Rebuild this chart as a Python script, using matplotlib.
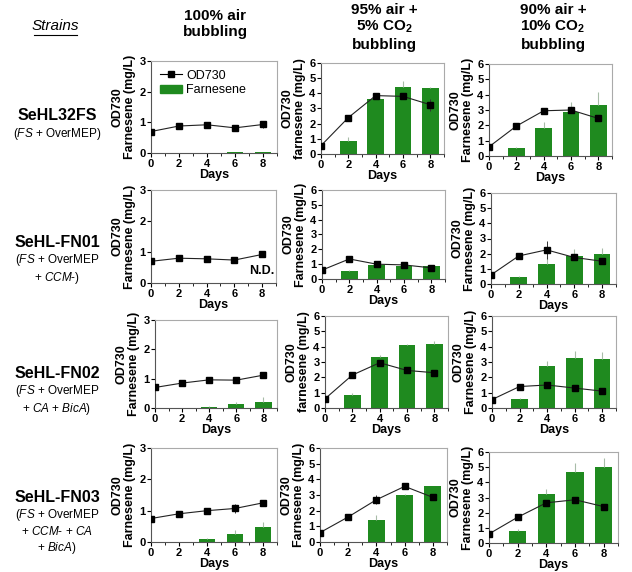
import numpy as np
import matplotlib
matplotlib.use("Agg")
import matplotlib.pyplot as plt
from matplotlib.patches import Patch
from matplotlib.lines import Line2D
from matplotlib.ticker import MultipleLocator

plt.rcParams['font.family'] = ['Liberation Sans', 'DejaVu Sans']
plt.rcParams['mathtext.fontset'] = 'custom'
plt.rcParams['mathtext.rm'] = 'Liberation Sans'
plt.rcParams['mathtext.it'] = 'Liberation Sans:italic'
plt.rcParams['mathtext.bf'] = 'Liberation Sans:bold'

days = [0, 2, 4, 6, 8]
conditions = ["100% air\nbubbling",
              "95% air +\n5% CO$_\\mathbf{2}$\nbubbling",
              "90% air +\n10% CO$_\\mathbf{2}$\nbubbling"]
strains = ["SeHL32FS", "SeHL-FN01", "SeHL-FN02", "SeHL-FN03"]
genotypes = ["($\\it{FS}$ + OverMEP)",
             "($\\it{FS}$ + OverMEP\n+ $\\it{CCM}$-)",
             "($\\it{FS}$ + OverMEP\n+ $\\it{CA}$ + $\\it{BicA}$)",
             "($\\it{FS}$ + OverMEP\n+ $\\it{CCM}$- + $\\it{CA}$\n+ $\\it{BicA}$)"]

# OD730 per strain (rows) and condition (columns)
od730 = [
    [[0.70, 0.88, 0.92, 0.82, 0.93], [0.55, 2.40, 3.85, 3.80, 3.25], [0.60, 1.95, 2.95, 3.00, 2.45]],
    [[0.70, 0.80, 0.78, 0.74, 0.92], [0.60, 1.35, 1.00, 0.95, 0.75], [0.60, 1.85, 2.25, 1.75, 1.50]],
    [[0.70, 0.85, 0.96, 0.95, 1.12], [0.60, 2.15, 2.95, 2.45, 2.30], [0.55, 1.40, 1.50, 1.30, 1.10]],
    [[0.75, 0.90, 1.00, 1.07, 1.25], [0.60, 1.60, 2.70, 3.55, 2.85], [0.60, 1.70, 2.65, 2.85, 2.40]],
]
od730_err = [
    [[0, 0.03, 0.03, 0.03, 0.10], [0, 0.05, 0.08, 0.10, 0.40], [0, 0.03, 0.05, 0.05, 0.05]],
    [[0, 0.03, 0.03, 0.03, 0.03], [0, 0.05, 0.05, 0.10, 0.10], [0, 0.05, 0.60, 0.20, 0.10]],
    [[0, 0.03, 0.03, 0.03, 0.03], [0, 0.05, 0.10, 0.10, 0.05], [0, 0.10, 0.10, 0.10, 0.10]],
    [[0, 0.03, 0.03, 0.15, 0.05], [0, 0.05, 0.30, 0.05, 0.10], [0, 0.05, 0.10, 0.10, 0.10]],
]
farnesene = [
    [[0, 0, 0, 0.03, 0.03], [0, 0.85, 3.65, 4.45, 4.35], [0, 0.55, 1.85, 2.90, 3.30]],
    [[0, 0, 0, 0, 0], [0, 0.55, 0.95, 0.90, 0.85], [0, 0.45, 1.35, 1.85, 1.95]],
    [[0, 0, 0.04, 0.15, 0.22], [0, 0.85, 3.35, 4.10, 4.20], [0, 0.60, 2.75, 3.25, 3.20]],
    [[0, 0, 0.08, 0.27, 0.48], [0, 0, 1.40, 3.00, 3.55], [0, 0.80, 3.20, 4.70, 5.00]],
]
farnesene_err = [
    [[0, 0, 0, 0.01, 0.01], [0, 0.25, 0.05, 0.35, 0.10], [0, 0.05, 0.35, 0.60, 0.85]],
    [[0, 0, 0, 0, 0], [0, 0.05, 0.05, 0.05, 0.05], [0, 0.10, 0.50, 0.45, 0.40]],
    [[0, 0, 0.02, 0.05, 0.15], [0, 0.10, 0.10, 0.10, 0.15], [0, 0.05, 0.30, 0.50, 0.45]],
    [[0, 0, 0.05, 0.10, 0.15], [0, 0, 0.35, 0.05, 0.05], [0, 0.15, 0.35, 0.60, 0.60]],
]
ymax = [3, 6, 6]

W, H = 632, 572
fig = plt.figure(figsize=(W / 100, H / 100), dpi=100)

# axes boxes in pixels: left, top, right, bottom
boxes = [
    [(151, 61, 277, 153), (321, 63, 444, 154), (489, 64, 612, 156)],
    [(151, 190, 276, 283), (322, 190, 445, 279), (491, 193, 616, 284)],
    [(155, 320, 277, 408), (325, 316, 448, 408), (492, 316, 616, 408)],
    [(151, 448, 277, 542), (320, 448, 447, 542), (489, 452, 618, 543)],
]
green = '#1f8a1f'

for r in range(4):
    for c in range(3):
        l, t, rr, b = boxes[r][c]
        ax = fig.add_axes([l / W, 1 - b / H, (rr - l) / W, (b - t) / H])
        f = np.array(farnesene[r][c])
        fe = np.array(farnesene_err[r][c])
        mask = f > 0
        ax.bar(np.array(days)[mask], f[mask], width=1.2, color=green, zorder=2,
               yerr=[np.zeros(mask.sum()), fe[mask]],
               error_kw=dict(ecolor='#a8bca8', elinewidth=0.8, capsize=0))
        ax.errorbar(days, od730[r][c], yerr=od730_err[r][c], color='#222222', lw=0.8,
                    marker='s', ms=4, mfc='black', mec='black', ecolor='#333333',
                    elinewidth=0.7, capsize=0, zorder=3)
        ax.set_xlim(0, 9)
        ax.set_ylim(0, ymax[c])
        ax.set_xticks(days)
        ax.xaxis.set_minor_locator(MultipleLocator(1))
        ax.yaxis.set_major_locator(MultipleLocator(1))
        ax.tick_params(labelsize=8, length=3, width=0.8, pad=1)
        ax.tick_params(which='minor', length=2, width=0.6)
        for lab in ax.get_xticklabels() + ax.get_yticklabels():
            lab.set_fontweight('bold')
        for s in ['top', 'right']:
            ax.spines[s].set_color('#aaaaaa')
        for s in ['left', 'bottom']:
            ax.spines[s].set_color('#555555')
        ax.set_xlabel("Days", fontsize=9, fontweight='bold', labelpad=0)
        flab = "farnesene (mg/L)" if (c == 1 and r in (0, 2)) else "Farnesene (mg/L)"
        ax.set_ylabel("OD730\n" + flab, fontsize=9, fontweight='bold', labelpad=2,
                      linespacing=1.1)
        if r == 0 and c == 0:
            handles = [Line2D([], [], color='black', lw=0.8, marker='s', ms=5),
                       Patch(color=green)]
            ax.legend(handles, ["OD730", "Farnesene"], loc='upper left', frameon=False,
                      fontsize=9, handlelength=1.8, borderaxespad=0.3,
                      labelspacing=0.2, handletextpad=0.3)
        if r == 1 and c == 0:
            ax.text(8.0, 0.3, "N.D.", fontsize=9, fontweight='bold', ha='center')

# column headers
for c, (x, y) in enumerate([(215, 24), (384, 27), (553, 27)]):
    fig.text(x / W, 1 - y / H, conditions[c], ha='center', va='center', fontsize=11,
             fontweight='bold', linespacing=1.2)

fig.text(55 / W, 1 - 26 / H, "Strains", ha='center', va='center', fontsize=11,
         style='italic')
fig.add_artist(Line2D([34 / W, 77 / W], [1 - 35 / H, 1 - 35 / H], color='black', lw=0.8))

for r, y in enumerate([116, 242, 373, 497]):
    fig.text(57 / W, 1 - y / H, strains[r], ha='center', va='center', fontsize=11.5,
             fontweight='bold')
    fig.text(57 / W, 1 - (y + 10) / H, genotypes[r], ha='center', va='top', fontsize=8.5,
             linespacing=1.2)

fig.savefig("out.png", dpi=100)
